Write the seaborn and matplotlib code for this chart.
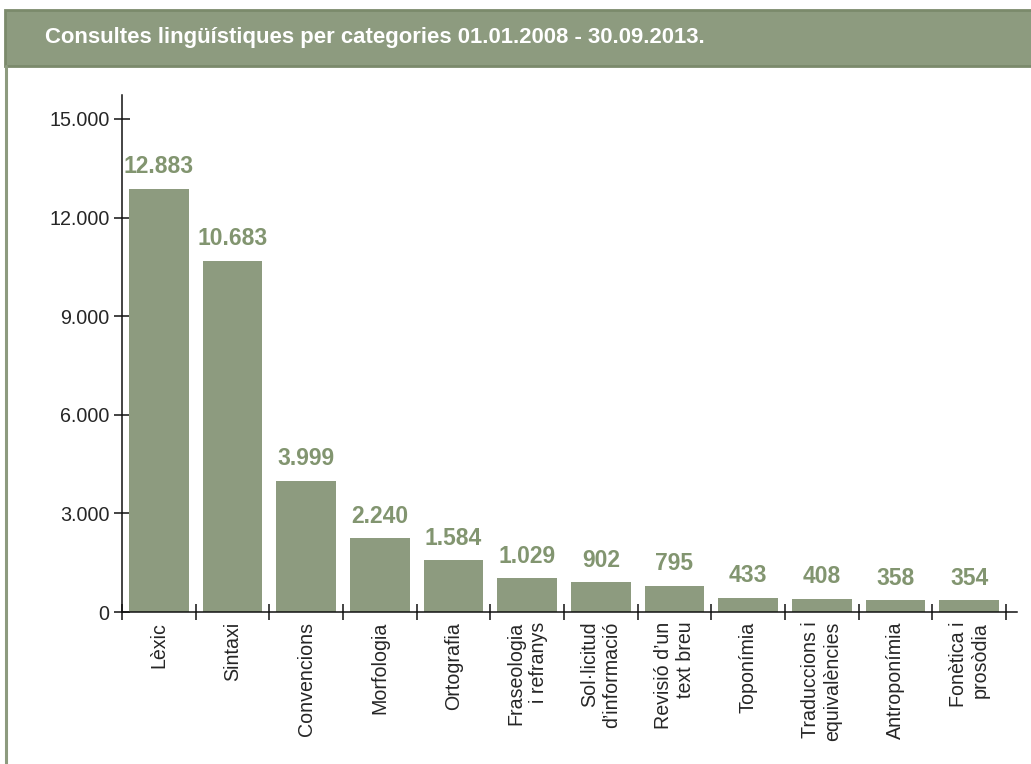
import matplotlib
matplotlib.use("Agg")
import matplotlib.pyplot as plt
import matplotlib.patches as mpatches
import matplotlib.lines as mlines
from matplotlib.ticker import FixedLocator, FuncFormatter
import seaborn as sns
import pandas as pd

categories = ["Lèxic", "Sintaxi", "Convencions", "Morfologia", "Ortografia",
              "Fraseologia\ni refranys", "Sol·licitud\nd’informació",
              "Revisió d’un\ntext breu", "Toponímia", "Traduccions i\nequivalències",
              "Antroponímia", "Fonètica i\nprosòdia"]
values = [12883, 10683, 3999, 2240, 1584, 1029, 902, 795, 433, 408, 358, 354]
y_ticks = [0, 3000, 6000, 9000, 12000, 15000]
title = "Consultes lingüístiques per categories 01.01.2008 - 30.09.2013."

GREEN = "#8d9b7f"
LABEL_GREEN = "#829570"
EDGE_GREEN = "#7b8a6b"

sns.set_style("white")
plt.rcParams["font.family"] = ["Liberation Sans", "DejaVu Sans"]

df = pd.DataFrame({"cat": categories, "val": values})

fig = plt.figure(figsize=(10.31, 7.64), dpi=100)
ax = fig.add_axes([122/1031, 1-612/764, (1017-122)/1031, (612-95)/764])

sns.barplot(data=df, x="cat", y="val", color=GREEN, width=0.81, saturation=1,
            ax=ax, edgecolor="none")

def fmt(v):
    return f"{int(v):,}".replace(",", ".")

for c in ax.containers:
    ax.bar_label(c, labels=[fmt(v) for v in values], padding=7.5,
                 color=LABEL_GREEN, fontsize=16.5, fontweight="bold")

ax.set_xlim(-0.5, 11.65)
ax.set_ylim(0, 15730)
ax.set_xlabel("")
ax.set_ylabel("")

for s in ["top", "right"]:
    ax.spines[s].set_visible(False)
for s in ["left", "bottom"]:
    ax.spines[s].set_color("#111111")
    ax.spines[s].set_linewidth(1.1)

ax.yaxis.set_major_locator(FixedLocator(y_ticks))
ax.yaxis.set_major_formatter(FuncFormatter(lambda v, p: fmt(v)))
ax.tick_params(axis="y", direction="inout", length=12, width=1.1, color="#111111",
               labelsize=14.2, pad=3, left=True)

ax.set_xticks(range(len(categories)))
ax.set_xticklabels(categories, rotation=90, fontsize=14.1, multialignment="right",
                   linespacing=1.2)
ax.tick_params(axis="x", which="major", length=0, pad=7)
ax.set_xticks([i - 0.5 for i in range(len(categories) + 1)], minor=True)
ax.tick_params(axis="x", which="minor", direction="inout", length=11, width=1.1,
               color="#111111", bottom=True)

# header band
fig.patches.append(mpatches.Rectangle((5/1031, 1-66/764), 1.1, 56/764,
                                      transform=fig.transFigure, facecolor=GREEN,
                                      edgecolor=EDGE_GREEN, linewidth=2, zorder=0))
fig.lines.append(mlines.Line2D([6/1031, 6/1031], [0, 1-66/764],
                               transform=fig.transFigure, color=GREEN, linewidth=2.2))
fig.text(45/1031, 1-37/764, title, color="white", fontsize=15.9, fontweight="bold",
         va="center", ha="left")

fig.savefig("out.png", dpi=100)
